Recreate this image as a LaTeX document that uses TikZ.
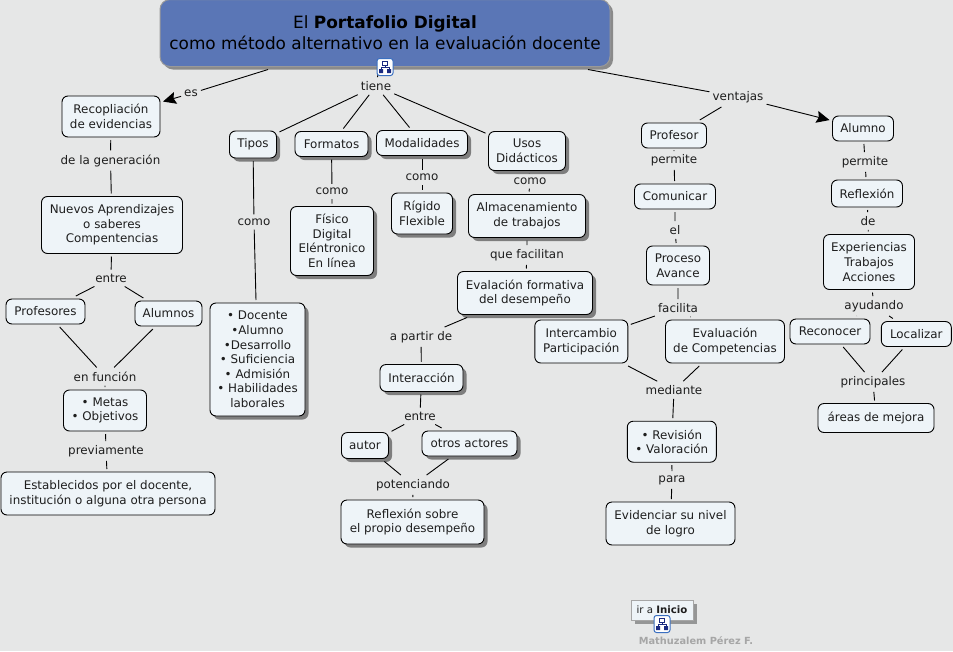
\documentclass[tikz,border=0pt]{standalone}
\usepackage{fontspec}
\setmainfont{DejaVu Sans}
\usetikzlibrary{shadows,arrows.meta}
\definecolor{bgc}{HTML}{E6E7E7}
\definecolor{boxc}{HTML}{EEF4F8}
\definecolor{titlec}{HTML}{5A76B6}
\definecolor{inkc}{HTML}{1E1E1E}
\definecolor{iconc}{HTML}{3A6FC0}
\definecolor{icond}{HTML}{1A2A80}
\tikzset{
  base/.style={align=center,inner sep=0pt,text=inkc,font=\fontsize{11.9}{14.6}\selectfont},
  cbox/.style={base,draw=black,fill=boxc,rounded corners=6pt,line width=0.9pt,outer sep=3pt},
  sbox/.style={cbox,drop shadow={shadow xshift=3.5pt,shadow yshift=-3.5pt,fill=black,opacity=.45}},
  lab/.style={base,inner xsep=3pt,inner ysep=4pt},
  link/.style={draw=black,line width=0.9pt},
  arrowlink/.style={link,-{Stealth[length=13pt,width=12pt,inset=2pt]}},
  orgicon/.pic={
    \draw[draw=iconc,fill=white,rounded corners=2.5pt,line width=1pt] (-8,-8.5) rectangle (8,8.5);
    \draw[draw=icond,line width=0.7pt] (0,-2) -- (0,0) (-4,2) -- (-4,0) -- (4,0) -- (4,2);
    \draw[draw=icond,fill=white,line width=0.8pt] (-2.5,-6) rectangle (2.5,-2);
    \fill[icond] (-6,2) rectangle (-2,6) (2,2) rectangle (6,6);
  }
}
\begin{document}
\begin{tikzpicture}[x=1pt,y=-1pt]
\path[use as bounding box,fill=bgc] (0,0) rectangle (953,651);
% title
\node[base,draw=black!40,fill=titlec,rounded corners=10pt,line width=1pt,minimum width=450,minimum height=67,
  drop shadow={shadow xshift=3pt,shadow yshift=-3pt,fill=black,opacity=.4},outer sep=3pt,
  font=\fontsize{16.9}{21}\selectfont,text=black] (title) at (385,33) {El \textbf{Portafolio Digital}\\como método alternativo en la evaluación docente};
% left
\node[cbox,minimum width=98,minimum height=41] (recop) at (111,116.5) {Recopliación\\de evidencias};
\node[cbox,minimum width=141,minimum height=57] (nuevos) at (112,225) {Nuevos Aprendizajes\\o saberes\\Compentencias};
\node[cbox,minimum width=79,minimum height=25] (profs) at (45.5,311.5) {Profesores};
\node[cbox,minimum width=67,minimum height=25] (alums) at (168.5,313.5) {Alumnos};
\node[cbox,minimum width=83,minimum height=41] (metas) at (105,410.5) {• Metas\\• Objetivos};
\node[cbox,minimum width=214,minimum height=43] (estab) at (108,493.5) {Establecidos por el docente,\\institución o alguna otra persona};
% columns
\node[sbox,minimum width=47,minimum height=27] (tipos) at (253,144.5) {Tipos};
\node[sbox,minimum width=73,minimum height=25] (forma) at (331.5,144) {Formatos};
\node[sbox,minimum width=91,minimum height=25] (modal) at (422,143) {Modalidades};
\node[sbox,minimum width=77,minimum height=39] (usos) at (527,151) {Usos\\Didácticos};
\node[sbox,minimum width=83,minimum height=69] (fisico) at (332,241) {Físico\\Digital\\Eléntronico\\En línea};
\node[sbox,minimum width=61,minimum height=41] (rigido) at (422,213.5) {Rígido\\Flexible};
\node[sbox,minimum width=117,minimum height=43] (almac) at (527,216) {Almacenamiento\\de trabajos};
\node[sbox,minimum width=135,minimum height=43] (evalf) at (525,293) {Evalación formativa\\del desempeño};
\node[sbox,minimum width=95,minimum height=113] (docen) at (257.5,359.5) {• Docente\\•Alumno\\•Desarrollo\\• Suficiencia\\• Admisión\\• Habilidades\\laborales};
\node[sbox,minimum width=83,minimum height=27] (inter) at (421.5,378) {Interacción};
\node[sbox,minimum width=47,minimum height=26] (autor) at (365,445.5) {autor};
\node[sbox,minimum width=95,minimum height=25] (otros) at (469.5,443.5) {otros actores};
\node[sbox,minimum width=143,minimum height=44] (refl) at (412.5,522) {Reflexión sobre\\el propio desempeño};
% right
\node[cbox,minimum width=65,minimum height=25] (prof) at (674,135.5) {Profesor};
\node[cbox,minimum width=81,minimum height=25] (comun) at (675,196.5) {Comunicar};
\node[cbox,minimum width=63,minimum height=39] (proce) at (678,265.5) {Proceso\\Avance};
\node[cbox,minimum width=93,minimum height=43] (inter2) at (581.3,341.5) {Intercambio\\Participación};
\node[cbox,minimum width=119,minimum height=43] (evalc) at (725,341.5) {Evaluación\\de Competencias};
\node[cbox,minimum width=89,minimum height=41] (revis) at (671.8,441.7) {• Revisión\\• Valoración};
\node[cbox,minimum width=129,minimum height=43] (evide) at (670.5,523.5) {Evidenciar su nivel\\de logro};
\node[cbox,minimum width=61,minimum height=25] (alumno) at (863,128.5) {Alumno};
\node[cbox,minimum width=71,minimum height=27] (reflx) at (867,193.5) {Reflexión};
\node[cbox,minimum width=91,minimum height=55] (exper) at (869,262) {Experiencias\\Trabajos\\Acciones};
\node[cbox,minimum width=80,minimum height=25] (recon) at (830,331.5) {Reconocer};
\node[cbox,minimum width=70,minimum height=25] (local) at (916.3,334) {Localizar};
\node[cbox,minimum width=116,minimum height=29] (areas) at (876,418) {áreas de mejora};
% labels
\node[lab] (es) at (191,93.5) {es};
\node[lab] (tiene) at (376,86) {tiene};
\node[lab] (vent) at (738,97) {ventajas};
\node[lab] (gener) at (110.5,160.5) {de la generación};
\node[lab] (como1) at (254,222) {como};
\node[lab] (como2) at (332,191.5) {como};
\node[lab] (como3) at (422,177.5) {como};
\node[lab] (como4) at (530,181) {como};
\node[lab] (entre1) at (111,278) {entre};
\node[lab] (enfun) at (105,376.5) {en función};
\node[lab] (previ) at (106,451) {previamente};
\node[lab] (quef) at (527,255) {que facilitan};
\node[lab] (apart) at (421,337) {a partir de};
\node[lab] (entre2) at (420,416) {entre};
\node[lab] (poten) at (413,485) {potenciando};
\node[lab] (perm1) at (674,160) {permite};
\node[lab] (el) at (675,230) {el};
\node[lab] (facil) at (678,308) {facilita};
\node[lab] (media) at (674,390) {mediante};
\node[lab] (para) at (672,480) {para};
\node[lab] (perm2) at (865,162) {permite};
\node[lab] (de) at (868,221) {de};
\node[lab] (ayuda) at (874,306) {ayudando};
\node[lab] (princ) at (873,382) {principales};
% connectors
\draw[link] (title.south -| 268,0) -- (es);
\draw[arrowlink] (es) -- (recop);
\draw[link] (title) -- (tiene);
\draw[link] (tiene) -- (tipos) (tiene) -- (forma) (tiene) -- (modal) (tiene) -- (usos);
\draw[link] (title.south -| 588,0) -- (vent);
\draw[link] (vent) -- (prof);
\draw[arrowlink] (vent) -- (alumno);
\draw[link] (recop) -- (gener) (gener) -- (nuevos);
\draw[link] (nuevos) -- (entre1) (entre1) -- (profs) (entre1) -- (alums);
\draw[link] (profs) -- (enfun) (alums) -- (enfun) (enfun) -- (metas);
\draw[link] (metas) -- (previ) (previ) -- (estab);
\draw[link] (tipos) -- (como1) (como1) -- (docen);
\draw[link] (forma) -- (como2) (como2) -- (fisico);
\draw[link] (modal) -- (como3) (como3) -- (rigido);
\draw[link] (usos) -- (como4) (como4) -- (almac);
\draw[link] (almac) -- (quef) (quef) -- (evalf);
\draw[link] (evalf) -- (apart) (apart) -- (inter);
\draw[link] (inter) -- (entre2) (entre2) -- (autor) (entre2) -- (otros);
\draw[link] (autor) -- (poten) (otros) -- (poten) (poten) -- (refl);
\draw[link] (prof) -- (perm1) (perm1) -- (comun) (comun) -- (el) (el) -- (proce);
\draw[link] (proce) -- (facil) (facil) -- (inter2) (facil) -- (evalc);
\draw[link] (inter2) -- (media) (evalc) -- (media) (media) -- (revis);
\draw[link] (revis) -- (para) (para) -- (evide);
\draw[link] (alumno) -- (perm2) (perm2) -- (reflx) (reflx) -- (de) (de) -- (exper);
\draw[link] (exper) -- (ayuda) (ayuda) -- (recon) (ayuda) -- (local);
\draw[link] (recon) -- (princ) (local) -- (princ) (princ) -- (areas);
% footer
\pic at (385,67) {orgicon};
\node[base,draw=black!35,fill=boxc,line width=0.8pt,minimum width=62,minimum height=20,
  drop shadow={shadow xshift=4pt,shadow yshift=-4pt,fill=black,opacity=.35},font=\fontsize{10.2}{12}\selectfont] (inicio) at (662,610) {ir a \textbf{Inicio}};
\pic at (662,624) {orgicon};
\node[base,text=black!35,font=\bfseries\fontsize{9.8}{12}\selectfont] (autorf) at (696,640.5) {Mathuzalem Pérez F.};
\end{tikzpicture}
\end{document}
